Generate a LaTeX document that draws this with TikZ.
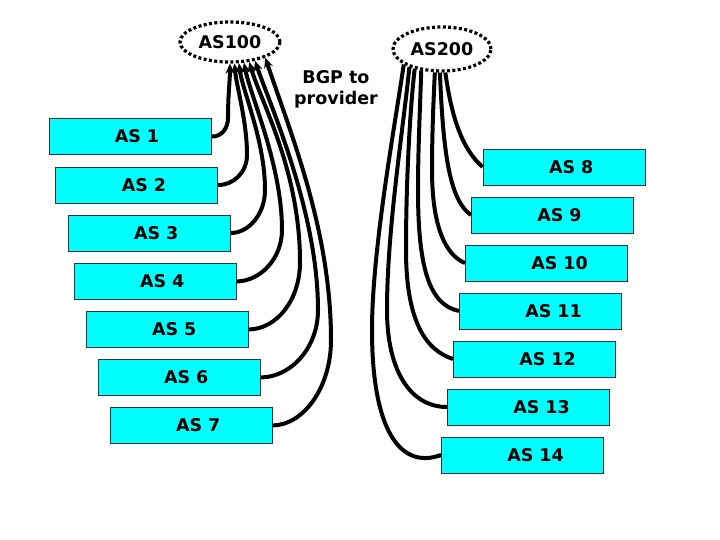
\documentclass[tikz,border=0pt]{standalone}
\usepackage{fontspec}
\setmainfont{DejaVu Sans}
\usetikzlibrary{shapes.geometric,arrows.meta}
\definecolor{asfill}{RGB}{0,255,255}

\begin{document}
\begin{tikzpicture}[
  x=1pt, y=-1pt,
  every node/.style={font=\bfseries\fontsize{17.5}{21}\selectfont},
  asbox/.style={rectangle, draw=black!80, line width=0.8pt, fill=asfill,
    minimum height=36pt, text width=162pt, inner xsep=0pt, align=left,
    anchor=west, execute at begin node=\hspace*{66pt}},
  asring/.style={ellipse, draw, line width=3.2pt,
    dash pattern=on 3pt off 2.4pt, inner sep=0pt},
  link/.style={line width=4pt},
  bgp/.style={link, -{Stealth[length=10pt,width=9pt]}}
]
\useasboundingbox (0,0) rectangle (720,540);

\node[asring, minimum width=100pt, minimum height=40pt] (as100) at (230,42) {AS100};
\node[asring, minimum width=98pt, minimum height=44pt] (as200) at (442,49) {AS200};
\node[align=center] (note) at (336,89) {BGP to\\provider};

\node[asbox] (as1) at (48.5,136.5) {AS 1};
\node[asbox] (as2) at (55.4,185) {AS 2};
\node[asbox] (as3) at (67.8,233) {AS 3};
\node[asbox] (as4) at (73.8,281.5) {AS 4};
\node[asbox] (as5) at (85.8,329.5) {AS 5};
\node[asbox] (as6) at (97.8,377.5) {AS 6};
\node[asbox] (as7) at (109.8,425.5) {AS 7};

\node[asbox] (as8) at (482.7,167) {AS 8};
\node[asbox] (as9) at (471,215) {AS 9};
\node[asbox] (as10) at (465,263) {AS 10};
\node[asbox] (as11) at (459,311) {AS 11};
\node[asbox] (as12) at (453,359) {AS 12};
\node[asbox] (as13) at (447,407) {AS 13};
\node[asbox] (as14) at (441,455) {AS 14};

% customers of AS100
\draw[bgp] (as1.east) .. controls (222,137) and (228,128) .. (228,118)
  .. controls (228,95) and (230,80) .. (as100.-90);
\draw[bgp] (as2.east) .. controls (234,185) and (247,172) .. (247,155)
  .. controls (247,120) and (236,85) .. (as100.-78.7);
\draw[bgp] (as3.east) .. controls (249,233) and (265,214) .. (265,190)
  .. controls (265,140) and (242,90) .. (as100.-67.9);
\draw[bgp] (as4.east) .. controls (261,281) and (282,258) .. (282,230)
  .. controls (282,165) and (250,95) .. (as100.-56);
\draw[bgp] (as5.east) .. controls (277,329) and (300,300) .. (300,262)
  .. controls (300,170) and (260,100) .. (as100.-46);
\draw[bgp] (as6.east) .. controls (292,377) and (318,347) .. (318,310)
  .. controls (318,210) and (268,100) .. (as100.-37.7);
\draw[bgp] (as7.east) .. controls (304,425) and (331,387) .. (331,340)
  .. controls (331,230) and (290,132) .. (as100.-24.5);

% customers of AS200
\draw[link] (as200.-82.2) .. controls (452,120) and (463,150) .. (as8.west);
\draw[link] (as200.-95.2) .. controls (443,150) and (449,200) .. (as9.west);
\draw[link] (as200.-107.8) .. controls (433,110) and (432,140) .. (432,170)
  .. controls (432,225) and (445,255) .. (as10.west);
\draw[link] (as200.-134.9) .. controls (420,110) and (418,150) .. (418,190)
  .. controls (418,270) and (430,305) .. (as11.west);
\draw[link] (as200.-144.4) .. controls (410,110) and (406,180) .. (406,250)
  .. controls (406,320) and (425,350) .. (as12.west);
\draw[link] (as200.-151.2) .. controls (403,130) and (387,230) .. (387,310)
  .. controls (387,370) and (410,407) .. (as13.west);
\draw[link] (as200.-158.7) .. controls (395,125) and (372,250) .. (372,330)
  .. controls (372,430) and (400,470) .. (as14.west);
\end{tikzpicture}
\end{document}
